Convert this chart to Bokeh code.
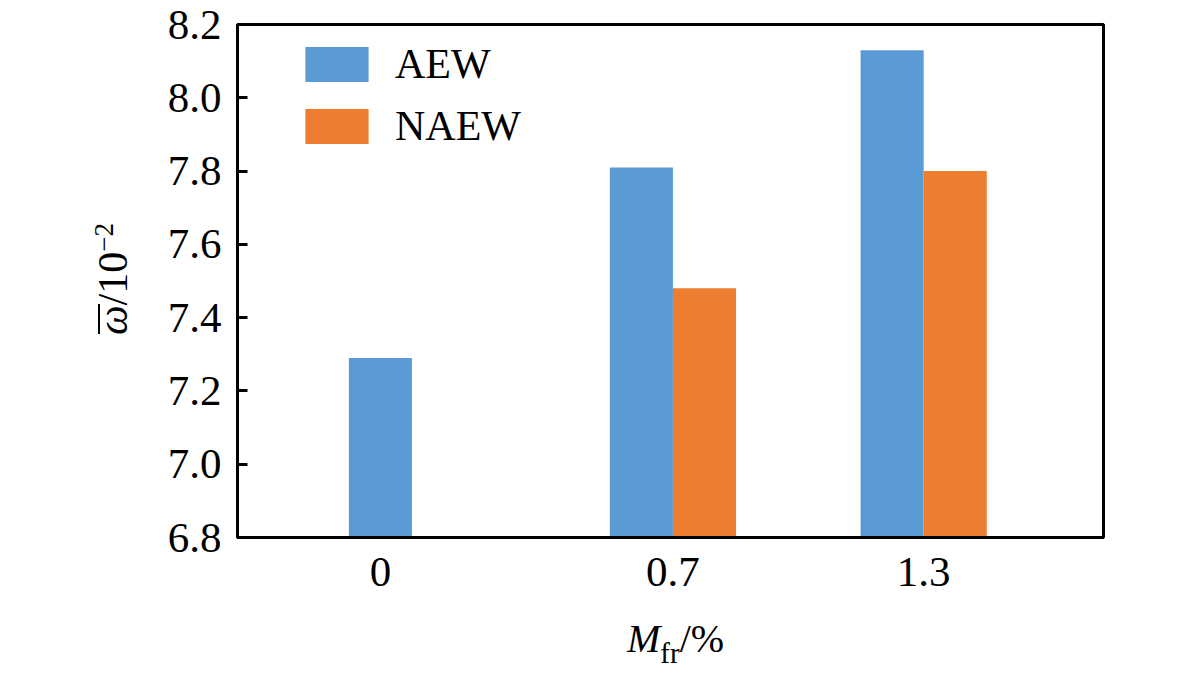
from bokeh.plotting import figure
from bokeh.models import (FixedTicker, PrintfTickFormatter, Legend, LegendItem, Range1d, Div)
from bokeh.layouts import row, column
from bokeh.embed import file_html
from bokeh.resources import INLINE

# ---- data ----
categories = ["0", "0.7", "1.3"]
aew = [7.29, 7.81, 8.13]
naew = [None, 7.48, 7.80]
y_ticks = [6.8, 7.0, 7.2, 7.4, 7.6, 7.8, 8.0, 8.2]
series_names = ["AEW", "NAEW"]
x_title = ("M", "fr", "/%")
y_title = ("ω", "/10", "−2")

FONT = "Liberation Serif"
BLUE = "#5B9BD5"
ORANGE = "#ED7D31"
BAR_W = 0.151

xpos = [float(c) for c in categories]
has_n = [v is not None for v in naew]
aew_x = [x - BAR_W / 2 if h else x for x, h in zip(xpos, has_n)]
naew_x = [x + BAR_W / 2 for x, h in zip(xpos, has_n) if h]
naew_top = [v for v in naew if v is not None]

X0, X1 = -0.3420, 1.7303
Y0, Y1 = 6.8, 8.2

YDIV_W = 150
FIG_H = 605

p = figure(width=1165 - YDIV_W, height=FIG_H, output_backend="svg", toolbar_location=None,
           x_range=Range1d(X0, X1), y_range=Range1d(Y0, Y1),
           min_border_left=237 - YDIV_W, min_border_right=62, min_border_top=24,
           min_border_bottom=FIG_H - 537, margin=0)
p.background_fill_color = "white"
p.border_fill_color = "white"
p.grid.visible = False
p.outline_line_color = "black"
p.outline_line_width = 3

r1 = p.vbar(x=aew_x, top=aew, bottom=Y0, width=BAR_W, fill_color=BLUE, line_color=None)
r2 = p.vbar(x=naew_x, top=naew_top, bottom=Y0, width=BAR_W, fill_color=ORANGE, line_color=None)

# y axis
ya = p.yaxis[0]
ya.ticker = FixedTicker(ticks=y_ticks)
ya.formatter = PrintfTickFormatter(format="%.1f")
ya.major_tick_in = 10
ya.major_tick_out = 0
ya.minor_tick_line_color = None
ya.axis_line_width = 3
ya.major_tick_line_width = 3
ya.major_label_text_font = FONT
ya.major_label_text_font_size = "43px"
ya.major_label_text_color = "black"
ya.major_label_standoff = 16

# x axis
xa = p.xaxis[0]
xa.ticker = FixedTicker(ticks=xpos)
xa.major_label_overrides = {x: c for x, c in zip(xpos, categories)}
xa.major_tick_in = 0
xa.major_tick_out = 0
xa.major_tick_line_color = None
xa.minor_tick_line_color = None
xa.axis_line_width = 3
xa.major_label_text_font = FONT
xa.major_label_text_font_size = "43px"
xa.major_label_text_color = "black"
xa.major_label_standoff = 20

# legend
legend = Legend(items=[LegendItem(label=series_names[0], renderers=[r1]),
                       LegendItem(label=series_names[1], renderers=[r2])],
                location=(60, 387), border_line_color=None, background_fill_alpha=0,
                glyph_width=79, glyph_height=44, label_standoff=19, spacing=14,
                padding=0, margin=0, label_text_font=FONT, label_text_font_size="42px",
                label_text_color="black")
p.add_layout(legend)

# y axis title (rotated, HTML for italic / overbar / superscript)
y_html = (
    f'<div style="position:relative;width:{YDIV_W}px;height:{FIG_H}px;">'
    f'<div style="position:absolute;left:113px;top:279px;'
    f'transform:translate(-50%,-50%) rotate(-90deg);'
    f"font-family:'{FONT}';font-size:42px;line-height:1;white-space:nowrap;color:black;\">"
    f'<span style="display:inline-block;position:relative;font-style:italic;">{y_title[0]}'
    f'<span style="position:absolute;left:1px;right:-1px;top:6px;'
    f'border-top:2px solid black;"></span></span>'
    f'{y_title[1]}'
    f'<sup style="font-size:27px;line-height:0;vertical-align:14px;">{y_title[2]}</sup>'
    f'</div></div>'
)
ydiv = Div(text=y_html, width=YDIV_W, height=FIG_H, margin=0)

# x axis title
x_html = (
    f"<div style=\"font-family:'{FONT}';font-size:40px;line-height:1;white-space:nowrap;"
    f'color:black;padding-left:{627 - YDIV_W}px;padding-top:14px;">'
    f'<i>{x_title[0]}</i>'
    f'<sub style="font-size:29px;line-height:0;vertical-align:-11px;">{x_title[1]}</sub>'
    f'{x_title[2]}</div>'
)
xdiv = Div(text=x_html, width=1165 - YDIV_W, height=659 - FIG_H, margin=0)

layout = row(ydiv, column(p, xdiv, spacing=0), spacing=0)

open("out.html", "w").write(file_html(layout, INLINE))
